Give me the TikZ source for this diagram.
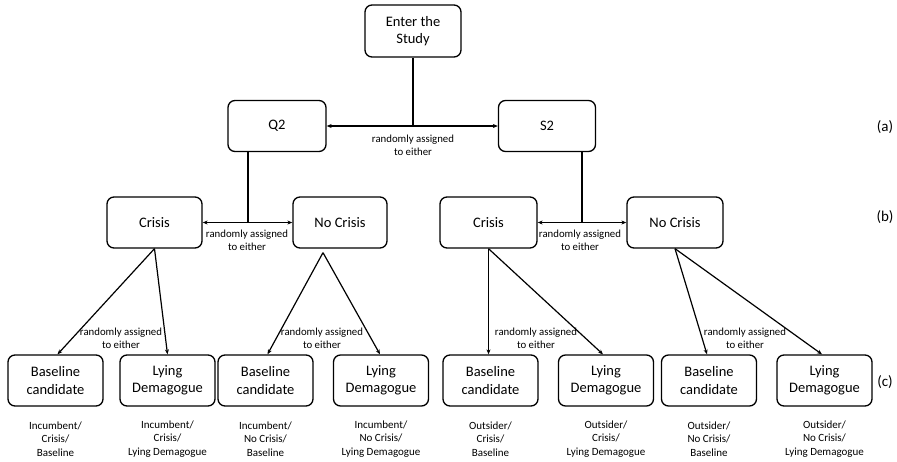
\documentclass[tikz,border=0pt]{standalone}
\usepackage{fontspec}
\setmainfont{Carlito}
\usetikzlibrary{arrows.meta}
\begin{document}
\begin{tikzpicture}[x=1pt,y=-1pt,
  box/.style={draw, line width=1.3pt, rounded corners=7pt, minimum width=95pt, minimum height=51pt, inner sep=0pt, align=center, font=\fontsize{14.5}{17.5}\selectfont},
  lbl/.style={align=center, inner sep=0pt, font=\fontsize{10.8}{13}\selectfont},
  res/.style={align=center, inner sep=0pt, font=\fontsize{11}{13.5}\selectfont},
  tag/.style={inner sep=0pt, font=\fontsize{15}{17}\selectfont},
  conn/.style={line width=1.2pt},
  arr/.style={line width=1.2pt, -{Stealth[length=5pt,width=4pt]}},
  darr/.style={line width=1.2pt, {Stealth[length=5pt,width=4pt]}-{Stealth[length=5pt,width=4pt]}}
]
\useasboundingbox (0,0) rectangle (897,461);
% level 0
\node[box, minimum width=96pt, minimum height=52pt] (enter) at (413,31) {Enter the\\Study};
% level a
\node[box, minimum width=98pt] (q2) at (277,126) {Q2};
\node[box, minimum width=97pt] (s2) at (547,126) {S2};
\coordinate (ja) at (413,126);
\draw[darr] (q2.east) -- (s2.west);
\draw[conn] (enter.south) -- (ja);
\node[lbl] (la) at (413,145.5) {randomly assigned\\to either};
% level b
\node[box] (c1) at (154.5,222.5) {Crisis};
\node[box, minimum width=94pt] (n1) at (340,222.5) {No Crisis};
\node[box, minimum width=97pt] (c2) at (488.5,222.5) {Crisis};
\node[box, minimum width=96pt] (n2) at (675,222.5) {No Crisis};
\coordinate (jb1) at (248,222.5);
\coordinate (jb2) at (582,222.5);
\draw[darr] (c1.east) -- (n1.west);
\draw[darr] (c2.east) -- (n2.west);
\draw[conn] (q2.south -| jb1) -- (jb1);
\draw[conn] (s2.south -| jb2) -- (jb2);
\node[lbl] (lb1) at (247,240.5) {randomly assigned\\to either};
\node[lbl] (lb2) at (580,240.5) {randomly assigned\\to either};
% level c
\foreach \n/\x/\a/\b in {b1/55.5/Baseline/candidate, d1/167.5/Lying/Demagogue, b2/265.5/Baseline/candidate, d2/381/Lying/Demagogue, b3/490.5/Baseline/candidate, d3/606/Lying/Demagogue, b4/709/Baseline/candidate, d4/824.5/Lying/Demagogue}
  \node[box] (\n) at (\x,380.5) {\a\\\b};
\draw[arr] (c1.south) -- ([xshift=2pt]b1.north);
\draw[arr] (c1.south) -- (d1.north);
\draw[arr] ([xshift=-17pt,yshift=-4pt]n1.south) -- ([xshift=2pt]b2.north);
\draw[arr] ([xshift=-17pt,yshift=-4pt]n1.south) -- ([xshift=-1pt]d2.north);
\draw[arr] (c2.south) -- ([xshift=-2pt]b3.north);
\draw[arr] (c2.south) -- ([xshift=-3pt]d3.north);
\draw[arr] (n2.south) -- ([xshift=-2pt]b4.north);
\draw[arr] (n2.south) -- ([xshift=-2.5pt]d4.north);
\node[lbl] (lc1) at (121,338.5) {randomly assigned\\to either};
\node[lbl] (lc2) at (322,338.5) {randomly assigned\\to either};
\node[lbl] (lc3) at (536,338.5) {randomly assigned\\to either};
\node[lbl] (lc4) at (745,338.5) {randomly assigned\\to either};
% results
\node[res] (r1) at (55.5,439) {Incumbent/\\Crisis/\\Baseline};
\node[res] (r2) at (167.5,439) {Incumbent/\\Crisis/\\Lying Demagogue};
\node[res] (r3) at (265.5,439) {Incumbent/\\No Crisis/\\Baseline};
\node[res] (r4) at (381,439) {Incumbent/\\No Crisis/\\Lying Demagogue};
\node[res] (r5) at (490.5,439) {Outsider/\\Crisis/\\Baseline};
\node[res] (r6) at (606,439) {Outsider/\\Crisis/\\Lying Demagogue};
\node[res] (r7) at (709,439) {Outsider/\\No Crisis/\\Baseline};
\node[res] (r8) at (824.5,439) {Outsider/\\No Crisis/\\Lying Demagogue};
% tags
\node[tag] (ta) at (885,127) {(a)};
\node[tag] (tb) at (885,217) {(b)};
\node[tag] (tc) at (885,382) {(c)};
\end{tikzpicture}
\end{document}
